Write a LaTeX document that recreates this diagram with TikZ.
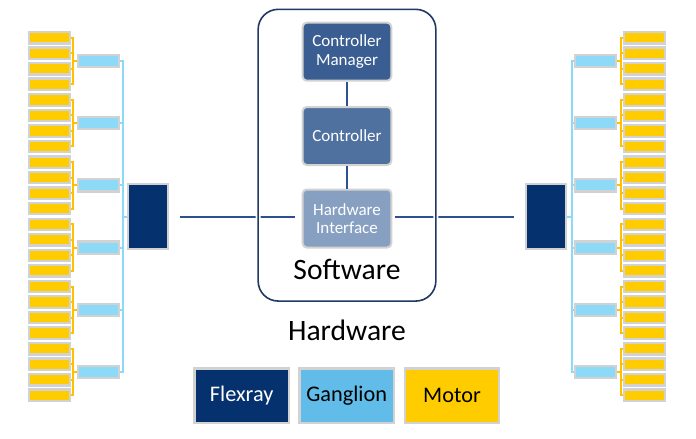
\documentclass[tikz,border=0pt]{standalone}
\usepackage{fontspec}
\setmainfont{Carlito}
\definecolor{flexray}{HTML}{06316F}
\definecolor{ganglion}{HTML}{8CDAF7}
\definecolor{ganglionkey}{HTML}{62BCE9}
\definecolor{motor}{HTML}{FFCC00}
\definecolor{bracket}{HTML}{FFC000}
\definecolor{frame}{HTML}{D2D2D2}
\definecolor{swline}{HTML}{1F3864}
\definecolor{link}{HTML}{2F5090}
\definecolor{mgr}{HTML}{3A5E91}
\definecolor{ctrl}{HTML}{4F71A0}
\definecolor{hwif}{HTML}{87A0C2}
\begin{document}
\begin{tikzpicture}[x=1pt,y=-1pt,
    motorbox/.style={draw=frame,line width=2.2pt,fill=motor,minimum width=41pt,minimum height=11.4pt,inner sep=0pt},
    gangbox/.style={draw=frame,line width=2.2pt,fill=ganglion,minimum width=40.8pt,minimum height=12.3pt,inner sep=0pt},
    flexbox/.style={draw=frame,line width=2.2pt,fill=flexray,minimum width=39.8pt,minimum height=64.8pt,inner sep=0pt},
    swbox/.style={draw=frame,line width=2pt,rounded corners=4pt,minimum width=88.6pt,minimum height=58pt,
        inner sep=0pt,text=white,align=center,font=\fontsize{17}{18.5}\selectfont},
    softframe/.style={draw=white,line width=1.7pt,double=swline,double distance=1.6pt,rounded corners=20pt,
        minimum width=177.7pt,minimum height=291.7pt},
    keybox/.style={draw=frame,line width=2.5pt,minimum width=94.2pt,minimum height=54.2pt,inner sep=0pt,
        font=\fontsize{22.3}{25}\selectfont},
    ylink/.style={draw=bracket,line width=2pt},
    blink/.style={draw=ganglion,line width=2pt},
    nlink/.style={draw=link,line width=2pt},
    bigtext/.style={font=\fontsize{29.6}{33}\selectfont,anchor=base}]
    \useasboundingbox (0,0) rectangle (696,439);
    % flexray, ganglions and motors on both sides
    \foreach \s/\sd/\near/\far in {-1/L/east/west,1/R/west/east}{
        \node[flexbox] (flex\sd) at ({347+\s*199},216.5) {};
        \coordinate (bl\sd) at ({347+\s*224.5},0);
        \coordinate (yl\sd) at ({347+\s*274},0);
        \foreach \g in {0,...,5}{
            \node[gangbox] (gang\sd\g) at ({347+\s*248.5},{61+62.2*\g}) {};
            \foreach \k in {0,...,3}
                \node[motorbox] (mot\sd\g\k) at ({347+\s*297.5},{61+62.2*\g+15.5*(\k-1.5)}) {};
            \draw[ylink] (mot\sd\g0.\near) -- (mot\sd\g0.\near -| yl\sd) -- (mot\sd\g3.\near -| yl\sd) -- (mot\sd\g3.\near);
            \foreach \k in {1,2}
                \draw[ylink] (mot\sd\g\k.\near) -- (mot\sd\g\k.\near -| yl\sd);
            \draw[ylink] (gang\sd\g.\far) -- (gang\sd\g.\far -| yl\sd);
        }
        \draw[blink] (gang\sd0.\near) -- (gang\sd0.\near -| bl\sd) -- (gang\sd5.\near -| bl\sd) -- (gang\sd5.\near);
        \foreach \g in {1,...,4}
            \draw[blink] (gang\sd\g.\near) -- (gang\sd\g.\near -| bl\sd);
        \draw[blink] (flex\sd.\far) -- (flex\sd.\far -| bl\sd);
    }
    % software stack
    \node[swbox,fill=mgr] (mgr) at (347,51.7) {Controller\\Manager};
    \node[swbox,fill=ctrl] (ctrl) at (347,136) {Controller};
    \node[swbox,fill=hwif] (hwif) at (347,218.5) {Hardware\\Interface};
    \draw[nlink] (mgr) -- (ctrl);
    \draw[nlink] (ctrl) -- (hwif);
    \draw[nlink,shorten <=11pt,shorten >=7pt] (flexL.east) -- (hwif.west |- flexL.east);
    \draw[nlink,shorten <=3pt,shorten >=11pt] (hwif.east |- flexR.west) -- (flexR.west);
    \node[softframe] (soft) at (347,155.2) {};
    \node[bigtext] (softlbl) at (347,279.3) {Software};
    \node[bigtext] (hwlbl) at (347,340) {Hardware};
    % legend
    \node[keybox,fill=flexray,text=white] (keyflex) at (241.7,395.7) {Flexray};
    \node[keybox,fill=ganglionkey] (keygang) at (346.7,395.7) {Ganglion};
    \node[keybox,fill=motor] (keymot) at (452,395.7) {Motor};
\end{tikzpicture}
\end{document}
